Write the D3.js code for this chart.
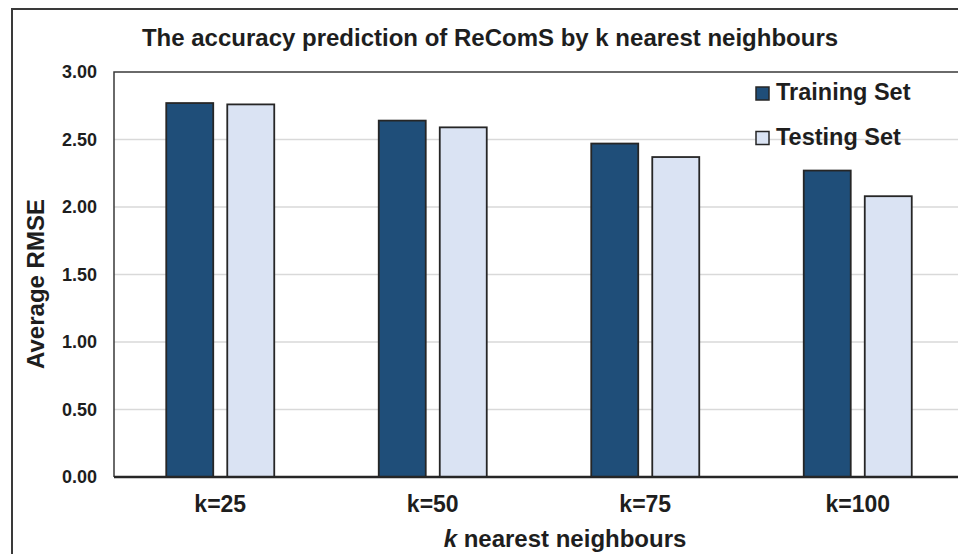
<!DOCTYPE html>
<html>
<head>
<meta charset="utf-8">
<script src="https://cdn.jsdelivr.net/npm/d3@7"></script>
<style>
  body { margin: 0; background: #fff; }
  svg { display: block; font-family: "Liberation Sans", Arial, sans-serif; font-weight: bold; }
</style>
</head>
<body>
<div id="viz"></div>
<script>
const categories = ["k=25", "k=50", "k=75", "k=100"]
const seriesNames = ["Training Set", "Testing Set"]
const trainingValues = [2.77, 2.64, 2.47, 2.27]
const testingValues = [2.76, 2.59, 2.37, 2.08]
const yTicks = [0, 0.5, 1, 1.5, 2, 2.5, 3]

const width = 958
const height = 554
const margin = {top: 72, bottom: 77, right: -6, left: 114}
const innerWidth = width - margin.left - margin.right
const innerHeight = height - margin.top - margin.bottom
const colors = ["#1f4e79", "#dae3f3"]

const svg = d3.select("#viz")
  .append("svg")
  .attr("width", width)
  .attr("height", height)

// outer frame: only the top and left edges are inside the picture
svg.append("path")
  .attr("d", "M12," + height + "V9H" + width)
  .attr("fill", "none")
  .attr("stroke", "#3a3a3a")
  .attr("stroke-width", 2)

const g = svg.append("g")
  .attr("transform", "translate(" + margin.left + "," + margin.top + ")")

const xScale = d3.scaleBand().domain(categories).range([0, innerWidth])
const groupWidth = 108
const xInner = d3.scaleBand().domain(seriesNames).range([0, groupWidth]).paddingInner(0.23)
const yScale = d3.scaleLinear().domain([0, 3]).range([innerHeight, 0])

// gridlines
g.append("g")
  .selectAll("line")
  .data(yTicks.filter(d => d > 0 && d < 3))
  .enter().append("line")
  .attr("x1", 0).attr("x2", width - margin.left)
  .attr("y1", d => yScale(d)).attr("y2", d => yScale(d))
  .attr("stroke", "#d9d9d9")
  .attr("stroke-width", 1.5)

// plot border (top and left)
g.append("path")
  .attr("d", "M0," + innerHeight + "V0H" + (width - margin.left))
  .attr("fill", "none")
  .attr("stroke", "#3a3a3a")
  .attr("stroke-width", 1.5)

// y axis labels
const yAxisG = g.append("g")
  .call(d3.axisLeft(yScale).tickValues(yTicks).tickFormat(d3.format(".2f")).tickSize(0).tickPadding(17))
yAxisG.select(".domain").remove()
yAxisG.selectAll("text")
  .attr("font-size", 18)
  .attr("font-family", "Liberation Sans, Arial, sans-serif")
  .attr("font-weight", "bold")
  .attr("fill", "#1e1e1e")

// bars
const data = categories.map((c, i) => ({cat: c, values: [trainingValues[i], testingValues[i]]}))
const groups = g.selectAll(".group")
  .data(data)
  .enter().append("g")
  .attr("class", "group")
  .attr("transform", d => "translate(" + (xScale(d.cat) + (xScale.bandwidth() - groupWidth) / 2) + ",0)")

groups.selectAll("rect")
  .data(d => d.values.map((v, j) => ({name: seriesNames[j], value: v, idx: j})))
  .enter().append("rect")
  .attr("x", d => xInner(d.name))
  .attr("y", d => yScale(d.value))
  .attr("width", xInner.bandwidth())
  .attr("height", d => innerHeight - yScale(d.value))
  .attr("fill", d => colors[d.idx])
  .attr("stroke", "#262626")
  .attr("stroke-width", 1.8)

// x axis (domain line drawn separately so it stays inside the picture)
g.append("line")
  .attr("x1", 0).attr("x2", width - margin.left)
  .attr("y1", innerHeight).attr("y2", innerHeight)
  .attr("stroke", "#262626")
  .attr("stroke-width", 2.5)
const xAxisG = g.append("g")
  .attr("transform", "translate(0," + innerHeight + ")")
  .call(d3.axisBottom(xScale).tickSize(0).tickPadding(19))
xAxisG.select(".domain").remove()
xAxisG.selectAll("text")
  .attr("font-size", 23)
  .attr("font-family", "Liberation Sans, Arial, sans-serif")
  .attr("font-weight", "bold")
  .attr("fill", "#1e1e1e")

// x axis label
const xLabel = svg.append("text")
  .attr("x", 565).attr("y", 547)
  .attr("text-anchor", "middle")
  .attr("font-size", 24)
  .attr("fill", "#1e1e1e")
xLabel.append("tspan").attr("font-style", "italic").text("k")
xLabel.append("tspan").text(" nearest neighbours")

// y axis label
svg.append("text")
  .attr("transform", "translate(44,284) rotate(-90)")
  .attr("text-anchor", "middle")
  .attr("font-size", 24)
  .attr("fill", "#1e1e1e")
  .text("Average RMSE")

// title
svg.append("text")
  .attr("x", 490).attr("y", 46)
  .attr("text-anchor", "middle")
  .attr("font-size", 24)
  .attr("fill", "#1e1e1e")
  .text("The accuracy prediction of ReComS by k nearest neighbours")

// legend
const legend = svg.append("g")
  .selectAll("g")
  .data(seriesNames)
  .enter().append("g")
  .attr("transform", (d, i) => "translate(756," + (87 + i * 44.5) + ")")
legend.append("rect")
  .attr("width", 13).attr("height", 13)
  .attr("fill", (d, i) => colors[i])
  .attr("stroke", "#262626")
  .attr("stroke-width", 1.5)
legend.append("text")
  .attr("x", 20).attr("y", 13)
  .attr("font-size", 23.5)
  .attr("fill", "#1e1e1e")
  .text(d => d)
</script>
</body>
</html>
